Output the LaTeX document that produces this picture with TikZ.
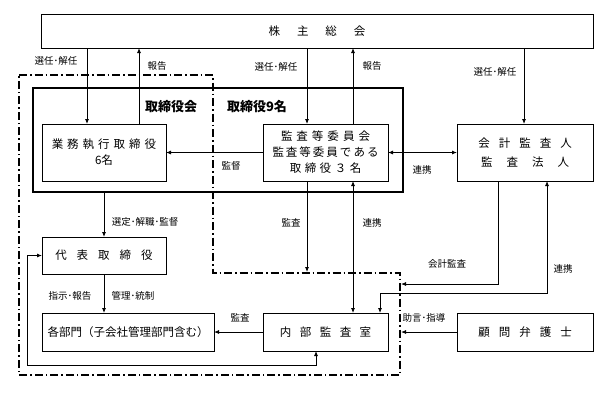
\documentclass[tikz,border=0pt]{standalone}
\usepackage{fontspec}
\setmainfont{Noto Sans CJK JP}
\usepackage{tikz}
\usetikzlibrary{arrows.meta,positioning}
% letter spaced text
\makeatletter
\newcommand\ls[2]{\def\ls@gap{#1}\ls@next#2\relax}
\def\ls@next#1{#1\@ifnextchar\relax{\@gobble}{\hspace{\ls@gap}\ls@next}}
\makeatother

\begin{document}
\begin{tikzpicture}[
    x=1pt, y=-1pt,
    line width=0.8pt,
    >={Latex[length=5pt,width=4pt]},
    box/.style={rectangle, draw, inner sep=0pt, outer sep=0pt, align=center, font=\fontsize{11.5}{16}\selectfont},
    lbl/.style={inner sep=0pt, font=\fontsize{9.5}{11}\selectfont},
    head/.style={inner sep=0pt, font=\fontsize{13}{15}\selectfont\bfseries},
    ddline/.style={line width=1.4pt, dash pattern=on 8pt off 3pt on 1.5pt off 3pt}
]
    \useasboundingbox (0,0) rectangle (609,392);

    % Shareholders
    \node[box, minimum width=552pt, minimum height=34pt] (soukai) at (317,31) {\ls{17pt}{株主総会}};

    % Board
    \node[draw, line width=2.6pt, inner sep=0pt, minimum width=370pt, minimum height=104pt] (torikai) at (218,140) {};
    \node[head] (torikai_lbl) at (171,107) {取締役会};
    \node[head] (torikai_num) at (257,107) {取締役9名};
    \node[box, minimum width=124pt, minimum height=57pt] (gyomu) at (104,152.5) {\ls{4pt}{業務執行取締役}\\6名};
    \node[box, minimum width=125pt, minimum height=57pt] (kansa) at (325.5,152.5) {\ls{4pt}{監査等委員会}\\\ls{2pt}{監査等委員である}\\\ls{3.5pt}{取締役３名}};
    \node[box, minimum width=136pt, minimum height=57pt] (kaikei) at (525,152.5) {\ls{9pt}{会計監査人}\\[3pt]\ls{14pt}{監査法人}};

    % Execution
    \node[box, minimum width=124pt, minimum height=37pt] (daihyo) at (104,255.5) {\ls{10pt}{代表取締役}};
    \node[box, minimum width=172pt, minimum height=38pt] (kakubu) at (128,332) {各部門（子会社管理部門含む）};
    \node[box, minimum width=125pt, minimum height=38pt] (naibu) at (325.5,332) {\ls{8.5pt}{内部監査室}};
    \node[box, minimum width=136pt, minimum height=38pt] (komon) at (525,332) {\ls{9pt}{顧問弁護士}};

    % Internal control area
    \draw[ddline] (19,75) -- (213,75) -- (213,273) -- (400,273) -- (400,375) -- (19,375) -- cycle;

    % Helper coordinates
    \coordinate (x87) at (87,0);
    \coordinate (x139) at (139,0);
    \coordinate (x307) at (307,0);
    \coordinate (x353) at (353,0);
    \coordinate (x524) at (524,0);
    \coordinate (x498) at (498,0);
    \coordinate (x547) at (547,0);
    \coordinate (x316) at (316,0);
    \coordinate (audit_end) at (307,272);
    \coordinate (acct_end) at (401,284);
    \coordinate (coop_turn) at (380,293);
    \coordinate (advice_end) at (401,332);
    \coordinate (loop_turn) at (27,365);

    % Edges
    \draw[->] (soukai.south -| x87) -- (gyomu.north -| x87);
    \draw[->] (gyomu.north -| x139) -- (soukai.south -| x139);
    \draw[->] (soukai.south -| x307) -- (kansa.north -| x307);
    \draw[->] (kansa.north -| x353) -- (soukai.south -| x353);
    \draw[->] (soukai.south -| x524) -- (kaikei.north -| x524);
    \draw[->] (kansa.west) -- (gyomu.east);
    \draw[<->] (kansa.east) -- (kaikei.west);
    \draw[->] (torikai.south -| daihyo.north) -- (daihyo.north);
    \draw[->] (daihyo.south) -- (kakubu.north -| daihyo.south);
    \draw[->] (kansa.south -| x307) -- (audit_end);
    \draw[<->] (kansa.south -| x353) -- (naibu.north -| x353);
    \draw[->] (naibu.west) -- (kakubu.east);
    \draw[->] (kaikei.south -| x498) |- (acct_end);
    \draw[<->] (kaikei.south -| x547) |- (coop_turn) -- (naibu.north -| coop_turn);
    \draw[->] (komon.west) -- (advice_end);
    \draw[<->] (daihyo.west) -| (loop_turn) -| (naibu.south -| x316);

    % Labels
    \node[lbl] (sel1) at (56,61) {選任･解任};
    \node[lbl] (rep1) at (157,66) {報告};
    \node[lbl] (sel2) at (276,67) {選任･解任};
    \node[lbl] (rep2) at (372,66) {報告};
    \node[lbl] (sel3) at (495,72) {選任･解任};
    \node[lbl] (sup1) at (231,166) {監督};
    \node[lbl] (coop1) at (422,170) {連携};
    \node[lbl] (sel4) at (145,222) {選定･解職･監督};
    \node[lbl] (aud1) at (291,223) {監査};
    \node[lbl] (coop2) at (372,223) {連携};
    \node[lbl] (acct) at (447,264) {会計監査};
    \node[lbl] (coop3) at (563,269) {連携};
    \node[lbl] (inst) at (70,296) {指示･報告};
    \node[lbl] (ctrl) at (133,296) {管理･統制};
    \node[lbl] (aud2) at (240,318) {監査};
    \node[lbl] (adv) at (424,318) {助言･指導};
\end{tikzpicture}
\end{document}
